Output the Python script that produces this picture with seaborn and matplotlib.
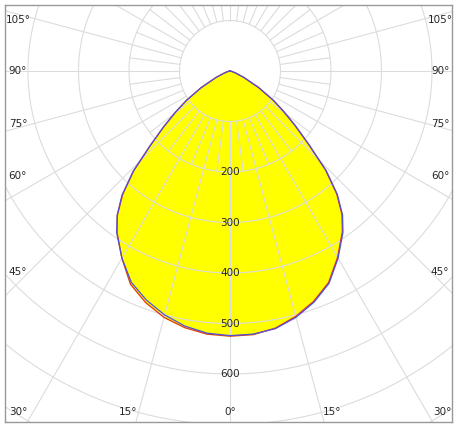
import numpy as np
import matplotlib
matplotlib.use("Agg")
import matplotlib.pyplot as plt
import seaborn as sns

sns.set_theme(style="white")
plt.rcParams['font.family'] = ['DejaVu Sans']

angles = [0, 5, 10, 15, 20, 25, 30, 35, 38, 41, 44, 47, 50, 53, 56, 60, 65, 70, 75, 80, 85, 90]
c0_left = [525, 523, 516, 505, 488, 466, 428, 390, 362, 324, 274, 214, 170, 134, 104, 66, 31, 13, 5, 2, 1, 0]
c0_right = [525, 524, 517, 503, 485, 462, 426, 388, 360, 322, 272, 212, 168, 132, 102, 64, 30, 12, 5, 2, 1, 0]
c90_left = [524, 521, 513, 500, 483, 462, 428, 391, 363, 326, 276, 216, 171, 135, 104, 66, 31, 13, 5, 2, 1, 0]
c90_right = [524, 523, 518, 505, 487, 464, 428, 390, 362, 324, 274, 214, 170, 134, 104, 66, 31, 13, 5, 2, 1, 0]
ring_labels = [200, 300, 400, 500, 600]
bottom_labels = [30, 15, 0, 15, 30]
side_labels = [105, 90, 75, 60, 45]

def curve(left, right):
    a = np.radians(np.array(angles, float))
    l = np.array(left, float); r = np.array(right, float)
    x = np.concatenate([-(l * np.sin(a))[::-1], (r * np.sin(a))[1:]])
    y = np.concatenate([-(l * np.cos(a))[::-1], -(r * np.cos(a))[1:]])
    return x, y

fig = plt.figure(figsize=(4.58, 4.28), dpi=100)
ax = fig.add_axes([5/458, 6/428, 447/458, 417/428])
ax.set_xlim(-445.5, 439.6)
ax.set_ylim(-695, 130.7)
ax.set_xticks([]); ax.set_yticks([])
for s in ax.spines.values():
    s.set_color('#999999'); s.set_linewidth(1)

x1, y1 = curve(c0_left, c0_right)
x2, y2 = curve(c90_left, c90_right)
ax.fill(x1, y1, color='#ffff00', zorder=1)

gc = '#dcdcdc'
t = np.linspace(0, 2*np.pi, 400)
for R in range(100, 1000, 100):
    ax.plot(R*np.cos(t), R*np.sin(t), color=gc, lw=0.8, zorder=2)
for d in np.arange(0, 360, 15):
    a = np.radians(d)
    ax.plot([100*np.sin(a), 1200*np.sin(a)], [-100*np.cos(a), -1200*np.cos(a)], color=gc, lw=0.8, zorder=2)
for d in np.arange(7.5, 360, 15):
    a = np.radians(d)
    ax.plot([100*np.sin(a), 200*np.sin(a)], [-100*np.cos(a), -200*np.cos(a)], color=gc, lw=0.8, zorder=2)

ax.plot(x1, y1, color='#e03030', lw=0.9, zorder=3)
ax.plot(x2, y2, color='#5050e0', lw=0.9, zorder=3)

for R in ring_labels:
    ax.text(0, -R, str(R), ha='center', va='center', fontsize=7.5, zorder=4)

xs_b = [-420, -202, 0, 202, 420]
for xv, lab in zip(xs_b, bottom_labels):
    ax.text(xv, -675, f"{lab}°", ha='center', va='center', fontsize=7.5)
ys_s = [101, 0, -105, -208, -398]
for yv, lab in zip(ys_s, side_labels):
    ax.text(-420, yv, f"{lab}°", ha='center', va='center', fontsize=7.5)
    ax.text(416, yv, f"{lab}°", ha='center', va='center', fontsize=7.5)

fig.savefig("out.png", dpi=100)
